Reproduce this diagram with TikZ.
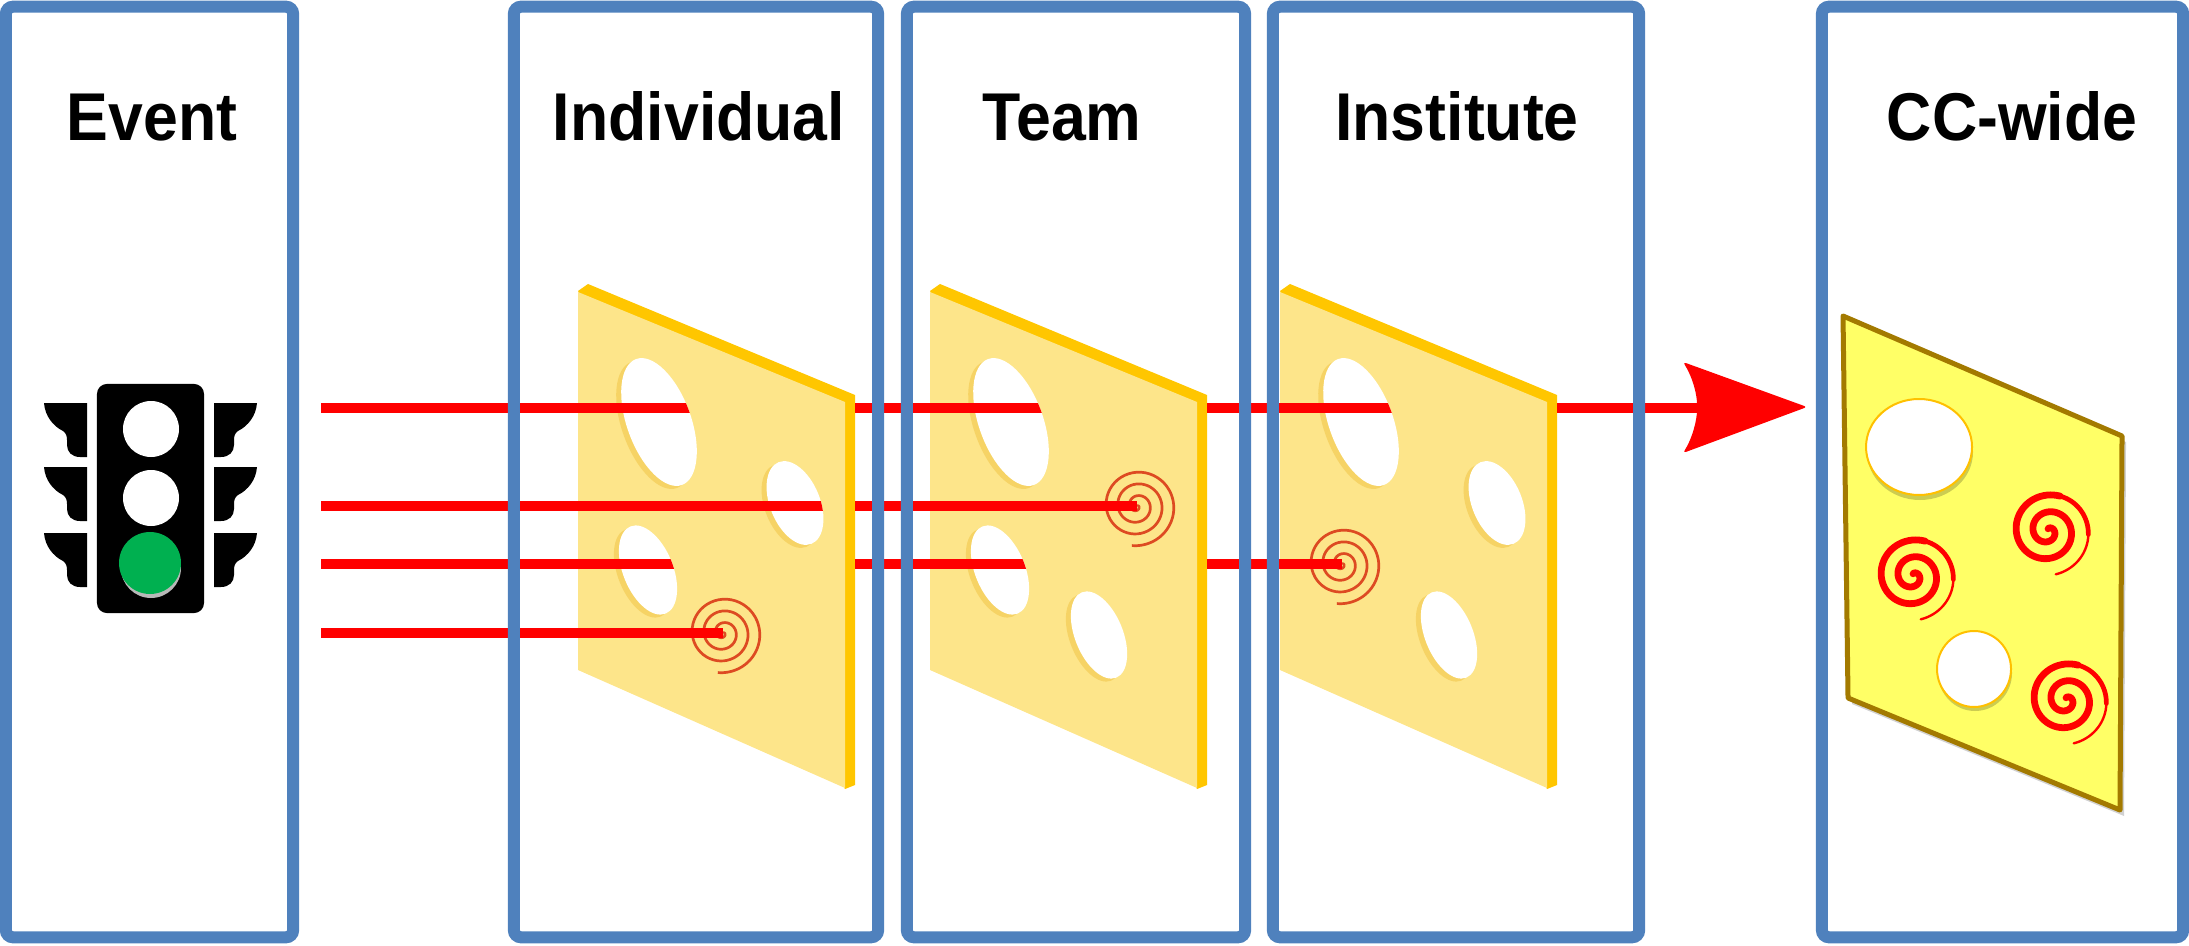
\documentclass[tikz,border=0pt]{standalone}
\usepackage{fontspec}
\setmainfont{Liberation Sans}
\usepackage{graphicx}
\definecolor{frameblue}{HTML}{4F81BD}
\definecolor{rayred}{HTML}{FF0000}
\definecolor{cheese}{HTML}{FDE58A}
\definecolor{cheeseedge}{HTML}{FFC600}
\definecolor{cheeserim}{HTML}{F6D365}
\definecolor{coilred}{HTML}{DD4A22}
\definecolor{ccyellow}{HTML}{FFFF66}
\definecolor{ccedge}{HTML}{A37A00}
\definecolor{holeedge}{HTML}{FFC000}
\definecolor{lampgreen}{HTML}{00B050}

% slab of cheese with its gold top and side edge
\newcommand{\plate}{%
  \fill[cheeseedge] (578,291) -- (588,284) -- (855,395) -- (855,785) -- (845,789) -- cycle;
  \fill[cheese] (578,292) -- (845,402) -- (845,788) -- (578,670) -- cycle;}
% hole: centre x, centre y, x radius, y radius, tilt
\newcommand{\cheesehole}[5]{%
  \fill[cheeserim, shift={(#1-5,#2+3)}, rotate=#5] (0,0) ellipse [x radius=#3, y radius=#4];
  \fill[white, shift={(#1,#2)}, rotate=#5] (0,0) ellipse [x radius=#3, y radius=#4];}
% ray seen through a hole (same hole arguments, then the ray height)
\newcommand{\rayinhole}[6]{%
  \begin{scope}
    \clip[shift={(#1,#2)}, rotate=#5] (0,0) ellipse [x radius=#3, y radius=#4];
    \draw[ray] (#1-90,#6) -- (#1+90,#6);
  \end{scope}}
% thin coil where a ray is stopped
\newcommand{\thincoil}[2]{%
  \draw[coil] plot[domain=0:1, samples=170, smooth, variable=\t]
    ({#1+40*\t*cos(1224*\t-1124)}, {#2+40*\t*sin(1224*\t-1124)});}
% bold tapered coil on the last slab
\newcommand{\boldcoil}[2]{%
  \draw[bigcoil, line width=0.068cm] plot[domain=0.05:0.84, samples=140, smooth, variable=\t]
    ({#1+44*\t*cos(936*\t-856)}, {#2+44*\t*sin(936*\t-856)});
  \draw[bigcoil, line width=0.047cm] plot[domain=0.83:0.92, samples=20, smooth, variable=\t]
    ({#1+44*\t*cos(936*\t-856)}, {#2+44*\t*sin(936*\t-856)});
  \draw[bigcoil, line width=0.024cm] plot[domain=0.91:1, samples=20, smooth, variable=\t]
    ({#1+44*\t*cos(936*\t-856)}, {#2+44*\t*sin(936*\t-856)});}
% one side visor of the signal head
\newcommand{\visor}[1]{%
  \fill (87,#1) -- (44,#1) .. controls (45,#1+13) and (53,#1+23) .. (63,#1+28)
    .. controls (66,#1+30) and (67,#1+33) .. (67,#1+37) -- (67,#1+42)
    .. controls (67,#1+49) and (72,#1+54) .. (80,#1+54) -- (87,#1+54) -- cycle;}

\begin{document}
\begin{tikzpicture}[x=0.01cm, y=-0.01cm,
  panel/.style={draw=frameblue, line width=0.12cm, rounded corners=0.07cm, rectangle,
                inner sep=0pt, minimum height=9.30cm},
  caption/.style={font=\fontsize{17.8}{20}\selectfont\bfseries, anchor=base, inner sep=0pt},
  ray/.style={draw=rayred, line width=0.095cm},
  coil/.style={draw=coilred, line width=0.027cm},
  bigcoil/.style={draw=rayred, line cap=round},
  ]
\useasboundingbox (0,0) rectangle (2189,946);

% traffic signal
\node[fill=black, rounded corners=0.1cm, minimum width=1.07cm, minimum height=2.29cm,
      inner sep=0pt] (signal) at (150.5,498.5) {};
\foreach \v in {403,467,533} {\visor{\v}}
\begin{scope}[shift={(301,0)}, xscale=-1]
  \foreach \v in {403,467,533} {\visor{\v}}
\end{scope}
\fill[white] (151,429) circle (28);
\fill[white] (151,498) circle (28);
\fill[black!28] (151,568) circle (30);
\fill[lampgreen] (150,563) circle (31);

% ray start points and stops
\coordinate (src1) at (321,408);
\coordinate (src2) at (321,506);
\coordinate (src3) at (321,564);
\coordinate (src4) at (321,633);
\coordinate (stop2) at (1137,506);
\coordinate (stop3) at (1342,564);
\coordinate (stop4) at (723,633);
\coordinate (tip) at (1807,407);

% slab 1
\plate
\cheesehole{659}{422}{32}{67}{20} \rayinhole{659}{422}{32}{67}{20}{408}
\cheesehole{795}{503}{25}{44}{22} \rayinhole{795}{503}{25}{44}{22}{506}
\cheesehole{648}{570}{25}{47}{22} \rayinhole{648}{570}{25}{47}{22}{564}
\thincoil{723}{633}

% slab 2
\begin{scope}[shift={(352,0)}]
  \plate
  \cheesehole{659}{422}{32}{67}{20} \rayinhole{659}{422}{32}{67}{20}{408}
  \cheesehole{648}{570}{25}{47}{22} \rayinhole{648}{570}{25}{47}{22}{564}
  \cheesehole{747}{635}{24}{46}{22}
  \thincoil{785}{506}
\end{scope}

% slab 3
\begin{scope}[shift={(702,0)}]
  \plate
  \cheesehole{659}{422}{32}{67}{20} \rayinhole{659}{422}{32}{67}{20}{408}
  \cheesehole{795}{503}{25}{44}{22}
  \cheesehole{747}{635}{24}{46}{22}
  \thincoil{640}{564}
\end{scope}

% rays in front of the slabs
\draw[ray] (src1) -- (659,408);
\draw[ray] (855,408) -- (1011,408);
\draw[ray] (1207,408) -- (1361,408);
\draw[ray] (1557,408) -- (1700,408);
\draw[ray] (src2) -- (795,506);
\draw[ray] (855,506) -- (stop2);
\draw[ray] (src3) -- (648,564);
\draw[ray] (855,564) -- (1000,564);
\draw[ray] (1207,564) -- (stop3);
\draw[ray] (src4) -- (stop4);

% arrow head
\fill[rayred, rounded corners=0.03cm] (tip) -- (1683,362)
  .. controls (1693,378) and (1697,395) .. (1697,407)
  .. controls (1697,419) and (1693,437) .. (1683,453) -- cycle;

% final slab
\fill[black, opacity=0.18] (1847,322) -- (2126,442) -- (2124,816) -- (1852,704) -- cycle;
\filldraw[fill=ccyellow, draw=ccedge, line width=0.05cm, line join=round]
  (1843,316) -- (2122,436) -- (2120,810) -- (1848,698) -- cycle;
\fill[black, opacity=0.2] (1920,452) ellipse [x radius=53, y radius=48];
\filldraw[fill=white, draw=holeedge, line width=0.02cm] (1919,447) ellipse [x radius=53, y radius=48];
\fill[black, opacity=0.2] (1975,673) ellipse [x radius=37, y radius=38];
\filldraw[fill=white, draw=holeedge, line width=0.02cm] (1974,669) ellipse [x radius=37, y radius=38];
\boldcoil{2048}{531}
\boldcoil{1913}{576}
\boldcoil{2066}{700}

% panels
\node[panel, minimum width=2.87cm] (fevent) at (149.5,472) {};
\node[panel, minimum width=3.64cm] (findividual) at (696,472) {};
\node[panel, minimum width=3.38cm] (fteam) at (1076,472) {};
\node[panel, minimum width=3.66cm] (finstitute) at (1456,472) {};
\node[panel, minimum width=3.61cm] (fcc) at (2002.5,472) {};

% panel titles
\node[caption] (tevent) at (152,141) {\scalebox{1}[1.08]{Event}};
\node[caption] (tindividual) at (699,141) {\scalebox{1}[1.08]{Individual}};
\node[caption] (tteam) at (1062,141) {\scalebox{1}[1.08]{Team}};
\node[caption] (tinstitute) at (1457,141) {\scalebox{1}[1.08]{Institute}};
\node[caption] (tcc) at (2012,141) {\scalebox{1}[1.08]{CC-wide}};
\end{tikzpicture}
\end{document}
